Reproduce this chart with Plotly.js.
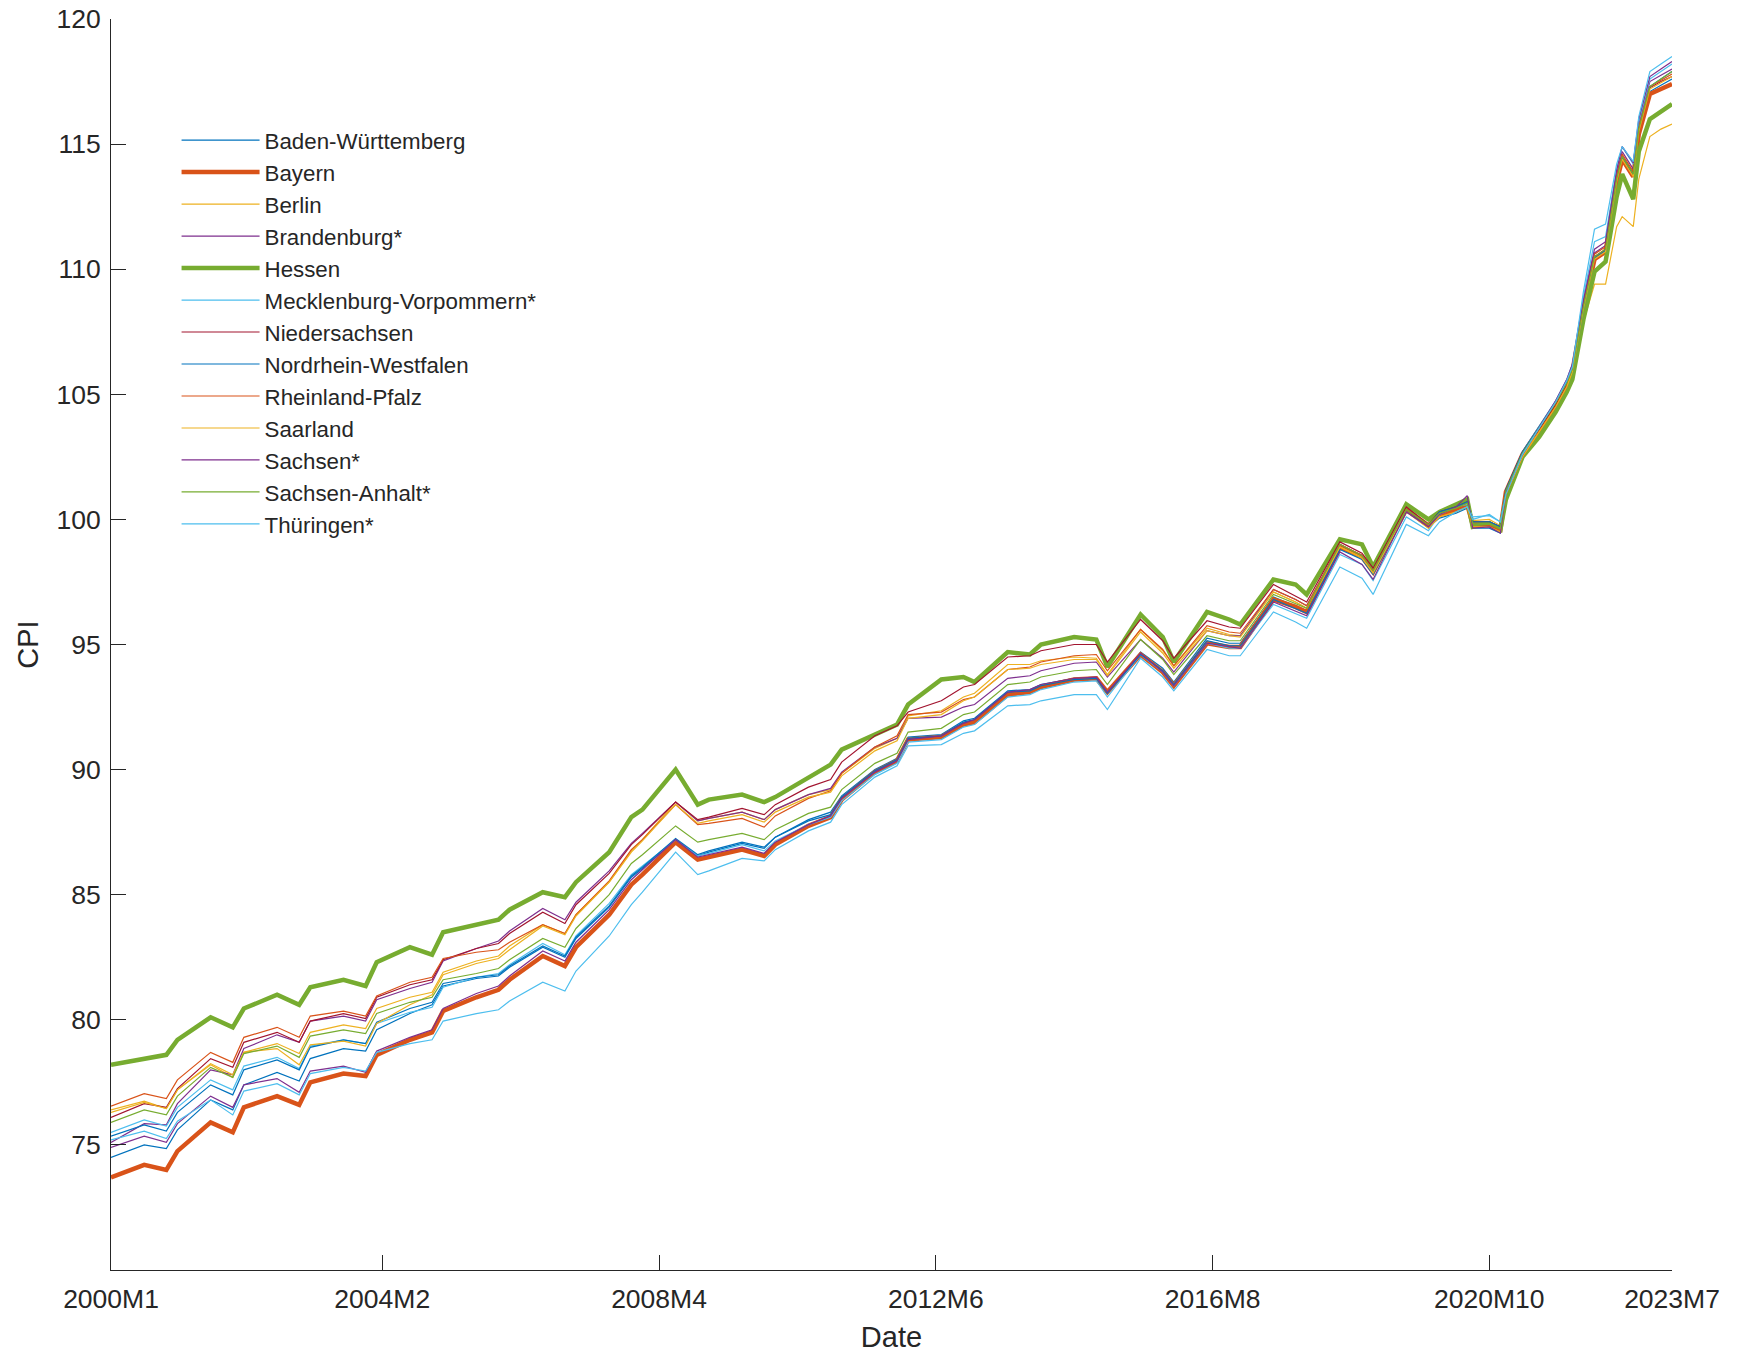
<!DOCTYPE html>
<html>
<head>
<meta charset="utf-8">
<script src="https://cdn.plot.ly/plotly-3.0.1.min.js"></script>
<style>
  html, body { margin: 0; padding: 0; background: #ffffff; }
  #chart { width: 1742px; height: 1353px; }
</style>
</head>
<body>
<div id="chart"></div>
<script>
// Month index (0 = 2000M1) of each sampled observation
const months = [0,6,10, 12,18,22, 24,30,34, 36,42,46, 48,54,58, 60,66,70, 72,78,82, 84,90,94, 96,102,106, 108,114,118, 120,126,130, 132,138,142, 144,150,154, 156,162,166, 168,174,178, 180,186,190, 192,198,202, 204,210,214, 216,222,226, 228,234,238,
  240,243,245,246,249,251, 252,255,258,261,263, 264,266,268,270,272,273,275, 276,278,280,282];

const tickMonths = [0, 49, 99, 149, 199, 249, 282];
const tickLabels = ['2000M1', '2004M2', '2008M4', '2012M6', '2016M8', '2020M10', '2023M7'];
const yTicks = [75, 80, 85, 90, 95, 100, 105, 110, 115, 120];

const badenWuerttemberg = [74.5,75.0,74.85, 75.6,76.8,76.4, 77.4,77.9,77.55, 78.45,78.85,78.75, 79.6,80.25,80.6, 81.35,81.65,81.75, 82.1,82.9,82.5, 83.25,84.5,85.7, 86.05,87.2,86.55, 86.7,87.05,86.85, 87.3,88.0,88.3, 88.95,90.0,90.45, 91.3,91.4,91.95, 92.05,93.15,93.2, 93.4,93.65,93.7, 93.1,94.7,94.05, 93.5,95.25,95.05, 95.05,96.9,96.55, 96.35,98.9,98.5, 97.9,100.4,99.7,
  100.05,100.25,100.45,99.65,99.65,99.45, 100.95,102.45,103.45,104.45,105.25, 106.0,108.45,110.45,110.7,113.5,114.4,113.7, 115.45,117.1,117.35,117.6];

const bayern = [73.7,74.2,74.0, 74.75,75.9,75.5, 76.5,76.95,76.6, 77.5,77.85,77.75, 78.6,79.2,79.5, 80.35,80.9,81.2, 81.6,82.55,82.15, 82.9,84.2,85.4, 85.8,87.1,86.4, 86.5,86.8,86.55, 87.0,87.75,88.1, 88.8,89.9,90.35, 91.2,91.3,91.8, 91.9,93.0,93.1, 93.3,93.6,93.65, 93.1,94.6,93.9, 93.35,95.05,94.9, 94.9,96.8,96.5, 96.3,98.9,98.5, 97.9,100.4,99.75,
  100.2,100.4,100.6,99.8,99.8,99.6, 101.1,102.6,103.6,104.6,105.4, 105.9,108.4,110.4,110.7,113.5,114.4,113.7, 115.4,117.0,117.2,117.4];

const berlin = [76.4,76.75,76.45, 77.2,78.2,77.7, 78.7,79.05,78.65, 79.5,79.8,79.65, 80.45,80.9,81.1, 81.9,82.35,82.55, 82.95,83.8,83.45, 84.2,85.5,86.75, 87.2,88.7,87.95, 88.05,88.3,88.0, 88.4,89.0,89.2, 89.85,90.85,91.25, 92.15,92.35,92.9, 93.05,94.2,94.2, 94.35,94.5,94.45, 93.8,95.6,94.75, 94.15,95.65,95.4, 95.35,97.1,96.7, 96.45,98.9,98.5, 97.9,100.4,99.75,
  100.35,100.55,100.75,99.95,100.0,99.75, 101.2,102.6,103.5,104.4,105.2, 105.7,107.9,109.4,109.4,111.7,112.1,111.7, 113.6,115.3,115.6,115.8];

const brandenburg = [75.1,75.85,75.8, 76.65,78.0,77.8, 78.85,79.4,79.1, 79.95,80.15,79.95, 80.8,81.25,81.5, 82.35,82.85,83.15, 83.55,84.45,84.0, 84.7,85.95,87.05, 87.45,88.7,87.95, 88.05,88.3,88.0, 88.4,89.0,89.25, 89.9,90.9,91.25, 92.05,92.1,92.5, 92.6,93.65,93.75, 93.95,94.25,94.3, 93.7,95.2,94.45, 93.9,95.55,95.35, 95.35,97.2,96.8, 96.55,99.0,98.55, 97.95,100.4,99.8,
  100.3,100.5,100.7,99.9,99.9,99.7, 101.2,102.7,103.7,104.7,105.5, 106.1,108.65,110.65,110.95,113.75,114.7,114.0, 115.8,117.5,117.75,118.0];

const hessen = [78.2,78.45,78.6, 79.2,80.1,79.7, 80.45,81.0,80.6, 81.3,81.6,81.35, 82.3,82.9,82.6, 83.5,83.8,84.0, 84.4,85.1,84.9, 85.5,86.7,88.1, 88.4,90.0,88.6, 88.8,89.0,88.7, 88.9,89.7,90.2, 90.8,91.4,91.8, 92.6,93.6,93.7, 93.5,94.7,94.6, 95.0,95.3,95.2, 94.1,96.2,95.3, 94.3,96.3,96.0, 95.8,97.6,97.4, 97.0,99.2,99.0, 98.1,100.6,100.0,
  100.3,100.6,100.8,99.7,99.85,99.6, 100.8,102.5,103.3,104.3,105.1, 105.6,108.0,109.9,110.3,112.9,113.8,112.8, 114.7,116.0,116.3,116.6];

const mecklenburgVorpommern = [75.5,76.0,75.75, 76.5,77.6,77.2, 78.15,78.5,78.05, 78.95,79.2,79.05, 79.85,80.3,80.5, 81.3,81.7,81.85, 82.2,83.05,82.6, 83.35,84.65,85.8, 86.15,87.2,86.55, 86.65,87.0,86.75, 87.15,87.8,88.1, 88.75,89.8,90.25, 91.1,91.2,91.7, 91.8,92.9,93.0, 93.2,93.5,93.55, 92.9,94.6,93.9, 93.35,95.05,94.85, 94.85,96.6,96.25, 96.05,98.6,98.2, 97.55,100.1,99.55,
  100.2,100.5,100.6,100.1,100.15,99.9, 101.1,102.7,103.7,104.75,105.6, 106.2,108.9,111.1,111.3,114.0,114.9,114.2, 115.9,117.6,117.9,118.2];

const niedersachsen = [76.1,76.65,76.5, 77.25,78.45,78.1, 79.1,79.5,79.1, 79.95,80.25,80.05, 80.9,81.4,81.6, 82.4,82.85,83.05, 83.45,84.3,83.85, 84.6,85.85,87.0, 87.4,88.7,88.0, 88.1,88.45,88.2, 88.6,89.3,89.6, 90.3,91.35,91.75, 92.3,92.75,93.3, 93.4,94.5,94.55, 94.75,95.0,95.0, 94.3,96.0,95.15, 94.45,95.95,95.7, 95.65,97.4,96.95, 96.7,99.1,98.65, 98.05,100.5,99.8,
  100.3,100.5,100.7,99.9,99.9,99.7, 101.2,102.7,103.6,104.6,105.4, 106.0,108.5,110.5,110.8,113.6,114.5,113.8, 115.6,117.25,117.5,117.7];

const nordrheinWestfalen = [75.35,75.8,75.55, 76.3,77.4,77.0, 78.0,78.4,78.0, 78.9,79.2,79.05, 79.9,80.45,80.7, 81.45,81.7,81.8, 82.15,82.95,82.55, 83.3,84.55,85.75, 86.1,87.25,86.6, 86.75,87.1,86.9, 87.3,87.95,88.2, 88.9,89.95,90.4, 91.25,91.35,91.9, 92.0,93.1,93.15, 93.35,93.6,93.65, 93.05,94.6,93.95, 93.4,95.15,94.95, 94.95,96.8,96.45, 96.25,98.8,98.4, 97.8,100.3,99.75,
  100.3,100.5,100.7,99.9,99.9,99.7, 101.2,102.7,103.7,104.7,105.5, 105.9,108.4,110.45,110.75,113.6,114.5,113.8, 115.6,117.3,117.6,117.9];

const rheinlandPfalz = [76.55,77.05,76.85, 77.6,78.7,78.3, 79.3,79.7,79.3, 80.15,80.35,80.15, 80.95,81.5,81.7, 82.45,82.7,82.8, 83.1,83.8,83.45, 84.2,85.55,86.8, 87.2,88.6,87.8, 87.85,88.05,87.7, 88.15,88.85,89.15, 89.85,90.9,91.35, 92.2,92.3,92.8, 92.9,94.0,94.1, 94.3,94.55,94.6, 93.95,95.6,94.8, 94.15,95.75,95.5, 95.45,97.2,96.8, 96.55,99.0,98.55, 97.95,100.4,99.75,
  100.1,100.3,100.5,99.7,99.75,99.55, 101.0,102.5,103.5,104.5,105.3, 106.1,108.6,110.6,110.9,113.7,114.6,113.9, 115.65,117.3,117.55,117.8];

const saarland = [76.3,76.7,76.45, 77.2,78.25,77.8, 78.7,78.85,78.2, 79.0,79.15,78.95, 79.85,80.6,81.0, 81.8,82.25,82.45, 82.8,83.75,83.4, 84.15,85.5,86.7, 87.15,88.6,87.85, 87.95,88.2,87.9, 88.3,88.9,89.1, 89.75,90.75,91.15, 92.05,92.2,92.75, 92.9,94.0,94.05, 94.2,94.4,94.4, 93.75,95.5,94.65, 94.05,95.55,95.35, 95.3,97.1,96.7, 96.45,98.9,98.45, 97.85,100.3,99.65,
  100.1,100.3,100.5,99.7,99.7,99.5, 101.0,102.5,103.5,104.5,105.3, 105.9,108.4,110.4,110.7,113.5,114.4,113.7, 115.5,117.2,117.45,117.7];

const sachsen = [74.9,75.35,75.1, 75.85,76.95,76.5, 77.4,77.65,77.1, 77.95,78.15,77.9, 78.75,79.3,79.6, 80.45,81.05,81.35, 81.75,82.75,82.35, 83.1,84.4,85.6, 86.0,87.2,86.5, 86.6,86.9,86.65, 87.1,87.8,88.15, 88.85,89.9,90.35, 91.2,91.35,91.85, 92.0,93.1,93.2, 93.4,93.65,93.7, 93.1,94.65,93.9, 93.35,95.05,94.9, 94.85,96.7,96.35, 96.15,98.7,98.2, 97.6,100.3,99.7,
  100.2,100.5,100.95,99.65,99.7,99.45, 101.05,102.6,103.7,104.75,105.6, 106.2,108.75,110.8,111.1,113.95,114.9,114.25, 116.0,117.7,118.0,118.3];

const sachsenAnhalt = [75.9,76.4,76.2, 76.95,78.1,77.7, 78.65,78.95,78.5, 79.35,79.6,79.45, 80.25,80.7,80.9, 81.6,81.85,82.05, 82.4,83.25,82.9, 83.65,85.0,86.25, 86.6,87.75,87.1, 87.2,87.45,87.2, 87.6,88.25,88.5, 89.2,90.25,90.65, 91.5,91.65,92.2, 92.3,93.4,93.5, 93.7,93.95,94.0, 93.4,95.2,94.4, 93.8,95.35,95.15, 95.15,97.0,96.65, 96.45,99.0,98.55, 97.95,100.4,99.8,
  100.25,100.45,100.65,99.85,99.85,99.65, 101.15,102.65,103.65,104.65,105.45, 106.0,108.5,110.5,110.8,113.6,114.5,113.8, 115.6,117.3,117.6,117.9];

const thueringen = [75.2,75.55,75.25, 75.95,76.8,76.2, 77.15,77.45,77.0, 77.85,78.1,77.95, 78.7,79.05,79.2, 79.95,80.25,80.4, 80.75,81.5,81.15, 81.95,83.35,84.6, 85.1,86.7,85.8, 85.95,86.45,86.35, 86.8,87.55,87.9, 88.6,89.7,90.15, 90.95,91.0,91.45, 91.55,92.55,92.6, 92.75,93.0,93.0, 92.4,94.45,93.7, 93.15,94.8,94.55, 94.55,96.3,95.9, 95.65,98.1,97.65, 97.0,99.8,99.35,
  99.9,100.3,100.5,100.0,100.2,99.9, 101.0,102.6,103.65,104.7,105.55, 106.1,109.1,111.6,111.8,114.2,114.9,114.3, 116.1,117.9,118.2,118.5];

const seriesNames = ['Baden-Württemberg', 'Bayern', 'Berlin', 'Brandenburg*', 'Hessen', 'Mecklenburg-Vorpommern*',
  'Niedersachsen', 'Nordrhein-Westfalen', 'Rheinland-Pfalz', 'Saarland', 'Sachsen*', 'Sachsen-Anhalt*', 'Thüringen*'];
const seriesValues = [badenWuerttemberg, bayern, berlin, brandenburg, hessen, mecklenburgVorpommern,
  niedersachsen, nordrheinWestfalen, rheinlandPfalz, saarland, sachsen, sachsenAnhalt, thueringen];

// styles
const seriesColors = ['#0072BD', '#D95319', '#EDB120', '#7E2F8E', '#77AC30', '#4DBEEE', '#A2142F',
  '#0072BD', '#D95319', '#EDB120', '#7E2F8E', '#77AC30', '#4DBEEE'];
const seriesWidths = [1.2, 4.5, 1.2, 1.2, 4.5, 1.2, 1.2, 1.2, 1.2, 1.2, 1.2, 1.2, 1.2];

const traces = seriesNames.map((name, i) => ({
  type: 'scatter',
  mode: 'lines',
  name: name,
  x: months,
  y: seriesValues[i],
  line: { color: seriesColors[i], width: seriesWidths[i] },
  hoverinfo: 'skip'
}));

const axisColor = '#262626';
const layout = {
  width: 1742,
  height: 1353,
  margin: { l: 111, r: 70, t: 19, b: 83 },
  paper_bgcolor: '#ffffff',
  plot_bgcolor: '#ffffff',
  font: { family: 'Liberation Sans, Arial, Helvetica, sans-serif', color: axisColor, size: 26 },
  showlegend: true,
  legend: {
    x: 0.042, y: 0.92, xanchor: 'left', yanchor: 'top',
    bgcolor: 'rgba(255,255,255,0)', borderwidth: 0,
    font: { size: 22.3, color: axisColor },
    itemwidth: 78,
    tracegroupgap: 0
  },
  xaxis: {
    range: [0, 282],
    tickvals: tickMonths,
    ticktext: tickLabels,
    ticks: 'inside', ticklen: 15, tickwidth: 1, tickcolor: axisColor,
    showline: true, linecolor: axisColor, linewidth: 1, mirror: false,
    showgrid: false, zeroline: false,
    tickfont: { size: 26.5, color: axisColor },
    ticklabelstandoff: 5,
    title: { text: 'Date', font: { size: 29, color: axisColor }, standoff: 20 },
    automargin: false
  },
  yaxis: {
    range: [70, 120],
    tickvals: yTicks,
    ticks: 'inside', ticklen: 15, tickwidth: 1, tickcolor: axisColor,
    showline: true, linecolor: axisColor, linewidth: 1, mirror: false,
    showgrid: false, zeroline: false,
    tickfont: { size: 26.5, color: axisColor },
    ticklabelstandoff: 4,
    title: { text: 'CPI', font: { size: 29, color: axisColor }, standoff: 9 },
    automargin: false
  }
};

Plotly.newPlot('chart', traces, layout, { staticPlot: true, displayModeBar: false });
</script>
</body>
</html>
